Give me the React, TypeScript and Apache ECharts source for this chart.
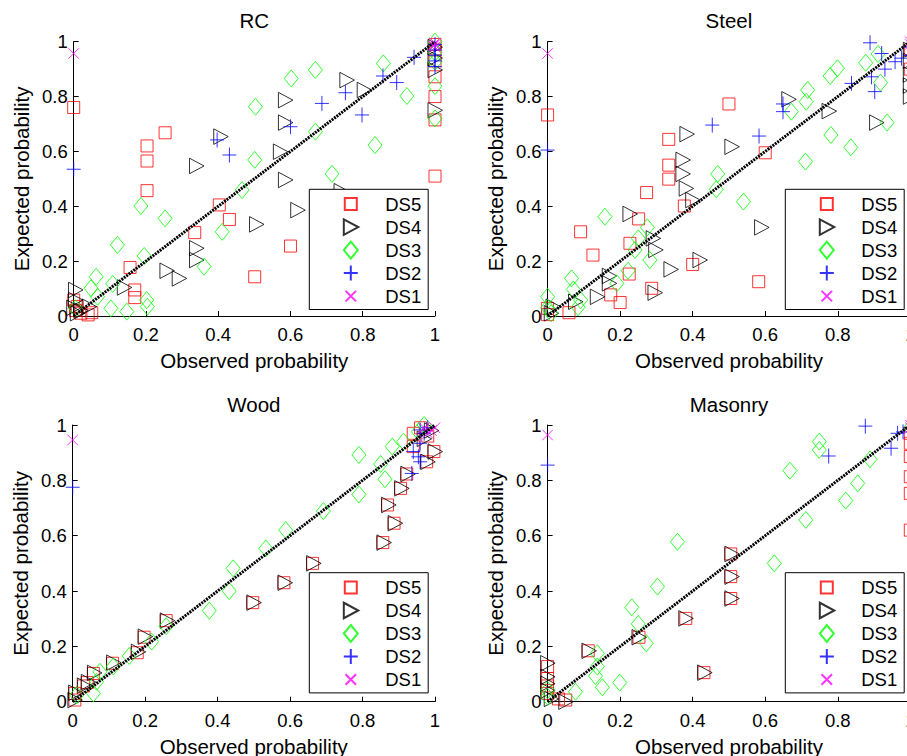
import React, { useEffect, useRef } from "react";
import * as echarts from "echarts";

// ---------------- data ----------------
const PANEL_TITLES = ["RC", "Steel", "Wood", "Masonry"];
const SERIES_NAMES = ["DS5", "DS4", "DS3", "DS2", "DS1"];
const X_NAME = "Observed probability";
const Y_NAME = "Expected probability";
const DIAGONAL = [[0, 0], [1, 1]];

const RC_DS5 = [[0,0.76],[0.253,0.668],[0.203,0.62],[0.203,0.565],[0.203,0.457],[0.403,0.405],[0.431,0.352],[0.335,0.304],[0.6,0.255],[0.501,0.143],[0.156,0.177],[0.169,0.095],[0.169,0.067],[1,0.51],[1,0.8],[1,0.715],[1,0.872],[1,0.93],[1,0.97],[1,0.99],[0,0.058],[0.005,0.02],[0.04,0.004],[0.05,0.012],[0.01,0.035],[0.02,0.01]];
const RC_DS4 = [[0.756,0.86],[0.804,0.824],[0.586,0.787],[0.586,0.705],[0.407,0.654],[0.572,0.599],[0.34,0.547],[0.586,0.496],[0.62,0.386],[0.506,0.334],[0.34,0.247],[0.34,0.204],[0.258,0.165],[0.292,0.137],[0.14,0.104],[0.005,0.095],[0.005,0.058],[0.043,0.034],[0.74,0.455],[1,0.75],[1,0.897],[1,0.94],[1,0.98],[0.01,0.01],[0.02,0.02],[0,0.03]];
const RC_DS3 = [[0.857,0.921],[0.669,0.897],[0.602,0.866],[0.503,0.763],[0.669,0.672],[0.834,0.623],[0.922,0.802],[0.501,0.569],[0.715,0.518],[0.466,0.459],[0.186,0.401],[0.253,0.356],[0.411,0.307],[0.361,0.18],[0.121,0.259],[0.195,0.219],[0.062,0.143],[0.108,0.117],[0.048,0.101],[0.066,0.07],[0.103,0.028],[0.147,0.016],[0.202,0.058],[0.204,0.034],[0.005,0.028],[1,0.838],[1,0.72],[1,1.0],[1,0.927],[1,0.96]];
const RC_DS2 = [[0.942,0.943],[0.856,0.875],[0.894,0.851],[0.752,0.814],[0.687,0.775],[0.798,0.733],[0.6,0.69],[0.397,0.642],[0.431,0.587],[0,0.535],[1,0.951],[1,0.909],[1,0.99],[1,0.97],[1,0.93]];
const RC_DS1 = [[0,0.957],[1,0.99],[1,0.98],[1,0.995],[0.995,0.985]];

const STEEL_DS5 = [[0,0.733],[0.5,0.773],[0.334,0.644],[0.334,0.55],[0.334,0.499],[0.273,0.45],[0.377,0.401],[0.6,0.595],[0.091,0.307],[0.125,0.222],[0.227,0.265],[0.251,0.354],[0.225,0.153],[0.287,0.101],[0.4,0.188],[0.582,0.125],[0.174,0.077],[0.2,0.049],[0.059,0.012],[0,0.028],[0,0.005],[1,0.97],[1,0.9]];
const STEEL_DS4 = [[0.384,0.663],[0.508,0.617],[0.373,0.569],[0.373,0.518],[0.382,0.465],[0.4,0.423],[0.227,0.372],[0.291,0.283],[0.298,0.241],[0.34,0.17],[0.42,0.204],[0.59,0.323],[0.296,0.085],[0.17,0.146],[0.17,0.119],[0.137,0.07],[0.077,0.052],[0.665,0.79],[0.776,0.747],[0.907,0.705],[0.015,0.034],[0.01,0.01],[1,0.97],[1,0.93],[1,0.88],[1,0.84],[1,0.8]];
const STEEL_DS3 = [[0.877,0.923],[0.911,0.955],[0.918,0.851],[0.799,0.903],[0.779,0.875],[0.717,0.824],[0.713,0.781],[0.672,0.745],[0.936,0.705],[0.781,0.66],[0.836,0.615],[0.711,0.563],[0.469,0.518],[0.465,0.462],[0.54,0.417],[0.158,0.362],[0.275,0.323],[0.25,0.283],[0.282,0.204],[0.241,0.241],[0.222,0.165],[0.191,0.119],[0.066,0.137],[0.071,0.097],[0.091,0.058],[0.084,0.032],[0,0.07],[0,0.03],[0.01,0.01]];
const STEEL_DS2 = [[0.889,0.996],[0.921,0.957],[0.93,0.9],[0.958,0.927],[0.976,0.94],[0.893,0.872],[0.902,0.818],[0.838,0.848],[0.649,0.773],[0.649,0.745],[0.454,0.696],[0.583,0.656],[0,0.605],[1,0.98],[1,0.95]];
const STEEL_DS1 = [[0,0.957],[1,0.99],[1,1.0]];

const WOOD_DS5 = [[0.662,0.5],[0.583,0.43],[0.497,0.358],[0.258,0.293],[0.197,0.233],[0.178,0.177],[0.11,0.139],[0.057,0.102],[0.04,0.069],[0.03,0.057],[0.006,0.03],[0.006,0.006],[0.856,0.575],[0.887,0.645],[0.869,0.711],[0.905,0.771],[0.922,0.823],[0.977,0.867],[0.997,0.904],[0.94,0.922],[0.94,0.97],[0.96,0.99],[0.98,0.96]];
const WOOD_DS4 = [[0.665,0.5],[0.586,0.43],[0.5,0.358],[0.261,0.293],[0.2,0.235],[0.181,0.18],[0.113,0.141],[0.06,0.104],[0.043,0.071],[0.032,0.058],[0.008,0.032],[0.006,0.006],[0.859,0.575],[0.89,0.645],[0.872,0.711],[0.908,0.771],[0.925,0.823],[0.98,0.867],[1,0.904],[0.97,0.95],[0.99,0.98]];
const WOOD_DS3 = [[0.79,0.892],[0.79,0.749],[0.85,0.859],[0.862,0.804],[0.882,0.922],[0.913,0.94],[0.692,0.689],[0.588,0.62],[0.533,0.554],[0.443,0.482],[0.432,0.4],[0.377,0.329],[0.258,0.273],[0.218,0.217],[0.156,0.165],[0.112,0.127],[0.075,0.108],[0.066,0.072],[0.057,0.03],[0.011,0.024],[0.954,0.976],[0.97,1.0]];
const WOOD_DS2 = [[0,0.775],[0.959,0.982],[0.94,0.904],[0.959,0.867],[0.936,0.825],[0.954,0.885],[0.959,0.934],[0.97,0.97],[0.98,0.99]];
const WOOD_DS1 = [[0,0.946],[0.99,0.98],[0.98,0.97],[0.97,0.99],[1,0.99]];

const MASONRY_DS5 = [[0.505,0.534],[0.505,0.452],[0.505,0.373],[0.381,0.301],[0.252,0.233],[0.112,0.184],[0.431,0.105],[1,0.62],[1,0.753],[1,0.813],[1,0.886],[1,0.934],[1,0.97],[0,0.127],[0,0.084],[0,0.057],[0,0.03],[0.05,0.006],[0.03,0.01]];
const MASONRY_DS4 = [[0.508,0.534],[0.508,0.452],[0.508,0.373],[0.381,0.301],[0.252,0.233],[0.114,0.184],[0.433,0.105],[0,0.139],[0,0.09],[0,0.065],[0,0.04],[0.05,0.0],[0.01,0.01]];
const MASONRY_DS3 = [[0.749,0.94],[0.749,0.91],[0.668,0.835],[0.889,0.876],[0.855,0.789],[0.822,0.727],[0.712,0.657],[0.625,0.5],[0.358,0.578],[0.303,0.416],[0.232,0.341],[0.25,0.281],[0.272,0.211],[0.137,0.175],[0.137,0.127],[0.132,0.093],[0.151,0.052],[0.199,0.069],[0.077,0.036],[0,0.042],[0,0.018],[1,0.99]];
const MASONRY_DS2 = [[0.876,0.996],[0.775,0.888],[0.947,0.916],[0.965,0.97],[0.98,0.975],[0,0.855],[1,0.99]];
const MASONRY_DS1 = [[0,0.964],[1,0.99],[1,1.0]];

const PANEL_DATA = [
  [RC_DS5, RC_DS4, RC_DS3, RC_DS2, RC_DS1],
  [STEEL_DS5, STEEL_DS4, STEEL_DS3, STEEL_DS2, STEEL_DS1],
  [WOOD_DS5, WOOD_DS4, WOOD_DS3, WOOD_DS2, WOOD_DS1],
  [MASONRY_DS5, MASONRY_DS4, MASONRY_DS3, MASONRY_DS2, MASONRY_DS1],
];

// ---------------- styles / layout ----------------
const FONT = '"Liberation Sans", Arial, Helvetica, sans-serif';
const COLORS = ["#ff0000", "#000000", "#00ff00", "#0000ff", "#ff00ff"];
const SYMBOLS = [
  "path://M0,0M18,18M3,3L15,3L15,15L3,15Z",
  "path://M0,0M18,18M2,1.25L16.5,9L2,16.75Z",
  "path://M0,0M18,18M9,0.5L16,9L9,17.5L2,9Z",
  "path://M0,0M18,18M9,1.5L9,16.5M2,9L16,9",
  "path://M0,0M18,18M3.75,3.75L14.25,14.25M14.25,3.75L3.75,14.25",
];
const GRIDS = [
  { left: 73.7, top: 41.7, width: 361.3, height: 274.3 },
  { left: 547.6, top: 41.7, width: 362.7, height: 274.3 },
  { left: 72.7, top: 425, width: 362.3, height: 276.7 },
  { left: 547.6, top: 425, width: 362.7, height: 276.7 },
];
const TITLE_Y = [20, 20, 404, 404];
const LEGEND_POS = [
  { left: 309.3, top: 189.3 },
  { left: 785.3, top: 189.3 },
  { left: 309.3, top: 572.7 },
  { left: 785.3, top: 572.7 },
];

function buildOption() {
  const grid = GRIDS.map((g) => ({ ...g, outerBoundsMode: "none", containLabel: false }));
  const axisCommon = {
    type: "value",
    min: 0,
    max: 1,
    interval: 0.2,
    nameLocation: "middle",
    nameMoveOverlap: false,
    nameTextStyle: { fontSize: 20.5, color: "#000", fontFamily: FONT },
    axisLine: { show: true, onZero: false, lineStyle: { color: "#000", width: 1 } },
    axisTick: { show: true, inside: true, length: 5, lineStyle: { color: "#000", width: 1 } },
    splitLine: { show: false },
  };
  const xAxis = GRIDS.map((_, i) => ({
    ...axisCommon,
    gridIndex: i,
    name: X_NAME,
    nameGap: 34,
    axisLabel: { margin: 9, fontSize: 18.5, color: "#000", fontFamily: FONT, hideOverlap: false },
  }));
  const yAxis = GRIDS.map((_, i) => ({
    ...axisCommon,
    gridIndex: i,
    name: Y_NAME,
    nameGap: 42,
    axisLabel: { margin: 6, fontSize: 18.5, color: "#000", fontFamily: FONT, hideOverlap: false },
  }));
  const series: any[] = [];
  PANEL_DATA.forEach((sets, p) => {
    sets.forEach((data, k) => {
      series.push({
        type: "scatter",
        name: SERIES_NAMES[k],
        xAxisIndex: p,
        yAxisIndex: p,
        data,
        symbol: SYMBOLS[k],
        symbolSize: 18,
        clip: false,
        silent: true,
        itemStyle: { color: "none", borderColor: COLORS[k], borderWidth: 1 },
        emphasis: { disabled: true },
      });
    });
    series.push({
      type: "line",
      xAxisIndex: p,
      yAxisIndex: p,
      data: DIAGONAL,
      symbol: "none",
      silent: true,
      lineStyle: { color: "#000", width: 3, type: [2, 1] },
      emphasis: { disabled: true },
    });
  });
  const legend = LEGEND_POS.map((pos) => ({
    ...pos,
    orient: "vertical",
    data: SERIES_NAMES,
    selectedMode: false,
    itemWidth: 18,
    itemHeight: 18,
    itemGap: 0,
    padding: [3.3, 7, 1.9, 30],
    backgroundColor: "#fff",
    borderColor: "#000",
    borderWidth: 1,
    borderRadius: 0,
    textStyle: {
      fontSize: 18.5,
      color: "#000",
      fontFamily: FONT,
      padding: [0, 0, 0, 20.4],
    },
  }));
  const graphic = PANEL_TITLES.map((t, i) => ({
    type: "text",
    x: GRIDS[i].left + GRIDS[i].width / 2,
    y: TITLE_Y[i],
    style: {
      text: t,
      fontSize: 20.5,
      fontFamily: FONT,
      fill: "#000",
      textAlign: "center",
      textVerticalAlign: "middle",
    },
  }));
  return {
    animation: false,
    backgroundColor: "#fff",
    grid,
    xAxis,
    yAxis,
    series,
    legend,
    graphic,
  };
}

export default function App() {
  const ref = useRef<HTMLDivElement>(null);
  useEffect(() => {
    if (!ref.current) return;
    const chart = echarts.init(ref.current, null, { renderer: "svg" });
    chart.setOption(buildOption() as any);
    return () => chart.dispose();
  }, []);
  return (
    <div
      ref={ref}
      style={{ position: "absolute", left: 0, top: 0, width: 907, height: 756 }}
    />
  );
}
